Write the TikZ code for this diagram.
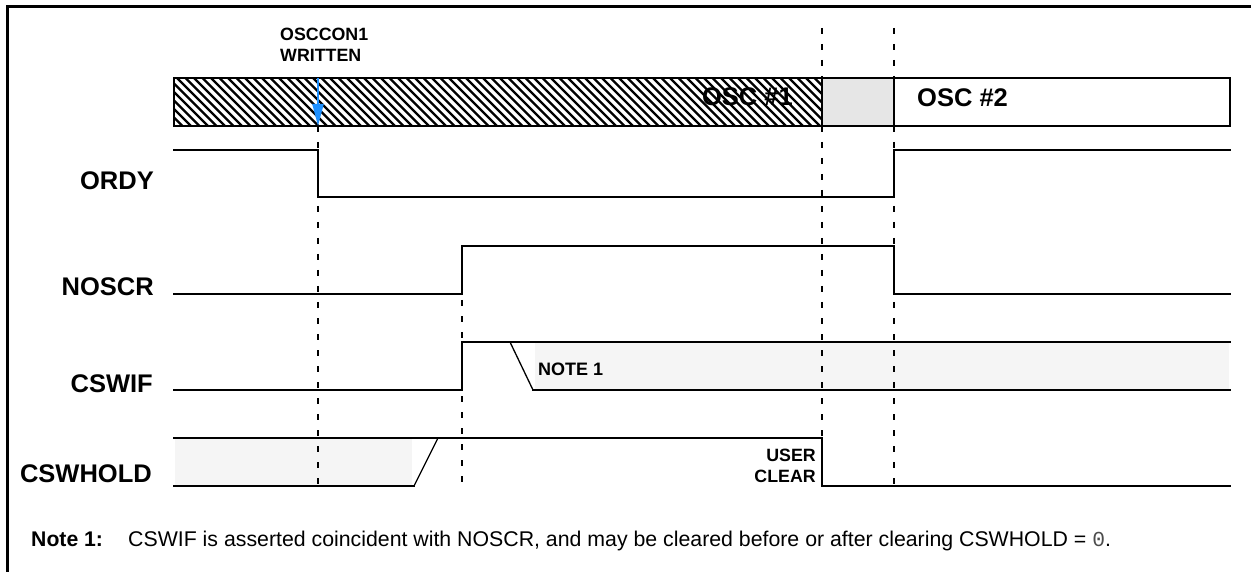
\documentclass[tikz,border=0pt]{standalone}
\usepackage{fontspec}
\setmainfont{Liberation Sans}
\setmonofont{Liberation Mono}
\usetikzlibrary{arrows.meta}
\definecolor{arrowblue}{RGB}{30,144,255}
\definecolor{oscgray}{RGB}{230,230,230}
\definecolor{pale}{RGB}{245,245,245}
\begin{document}
\begin{tikzpicture}[x=1pt,y=-1pt,
  sig/.style={line width=2.3pt, line join=miter, line cap=rect},
  guide/.style={line width=2.2pt, dash pattern=on 6pt off 10pt},
  hatchline/.style={line width=2.4pt},
  lbl/.style={font=\fontsize{25.5}{30}\selectfont\bfseries, inner sep=0pt, anchor=base east},
  small/.style={font=\fontsize{17.8}{21}\selectfont\bfseries, inner sep=0pt},
  big/.style={font=\fontsize{25.5}{30}\selectfont\bfseries, inner sep=0pt}]
\useasboundingbox (0,0) rectangle (1251,572);
% frame
\draw[line width=2.4pt] (7.5,572) -- (7.5,6.5) -- (1251,6.5);
% oscillator bar
\begin{scope}
\clip (174,78) rectangle (822,126);
\foreach \hx in {120,128.5,...,830} {
  \draw[hatchline] (\hx,72) -- (\hx+60,132);
}
\end{scope}
\fill[oscgray] (822,78) rectangle (894,126);
\node[big, anchor=base east] (osc1) at (793,106) {OSC \#1};
\node[big, anchor=base west] (osc2) at (917,107) {OSC \#2};
\draw[sig, line width=2.6pt] (174,78) rectangle (1230,126);
\draw[sig, line width=2.6pt] (822,78) -- (822,126) (894,78) -- (894,126);
% pale fills
\fill[pale] (535,343) rectangle (1229,389);
\fill[pale] (175,439) rectangle (412,485);
% guides
\draw[guide] (318,126) -- (318,486);
\draw[guide] (462,300) -- (462,486);
\draw[guide] (822,28) -- (822,78) (822,126) -- (822,438);
\draw[guide] (894,28) -- (894,78) (894,126) -- (894,486);
% arrow
\draw[line width=2.2pt, arrowblue, -{Triangle[length=22pt,width=11pt]}] (318,78) -- (318,126);
\node[small, anchor=north west, align=left] (wr) at (280,28) {OSCCON1\\WRITTEN};
% ORDY
\node[lbl] (ordy) at (154,190) {ORDY};
\draw[sig] (174,150) -- (318,150) -- (318,197) -- (894,197) -- (894,150) -- (1230,150);
% NOSCR
\node[lbl] (noscr) at (154,295) {NOSCR};
\draw[sig] (174,294) -- (462,294) -- (462,246) -- (894,246) -- (894,294) -- (1230,294);
% CSWIF
\node[lbl] (cswif) at (153,392) {CSWIF};
\draw[sig] (174,390) -- (462,390) -- (462,342) -- (1230,342);
\draw[line width=1.3pt] (510,342) -- (533,390);
\draw[sig] (533,390) -- (1230,390);
\node[small, font=\fontsize{18}{21}\selectfont\bfseries, anchor=base west] (n1) at (538,375) {NOTE 1};
% CSWHOLD
\node[lbl] (cswhold) at (152,482) {CSWHOLD};
\draw[sig] (174,438) -- (822,438) -- (822,486) -- (1230,486);
\draw[sig] (174,486) -- (414,486);
\draw[line width=1.3pt] (414,486) -- (438,438);
\node[small, anchor=north east, align=right] (uc) at (816,449) {USER\\CLEAR};
% note
\node[inner sep=0pt, anchor=base west, font=\fontsize{21.2}{24}\selectfont\bfseries] (nl) at (31,546) {Note 1:};
\node[inner sep=0pt, anchor=base west, font=\fontsize{21.3}{24}\selectfont] (nt) at (128,546) {CSWIF is asserted coincident with NOSCR, and may be cleared before or after clearing CSWHOLD = {\ttfamily\color{black!70}0}.};
\end{tikzpicture}
\end{document}
